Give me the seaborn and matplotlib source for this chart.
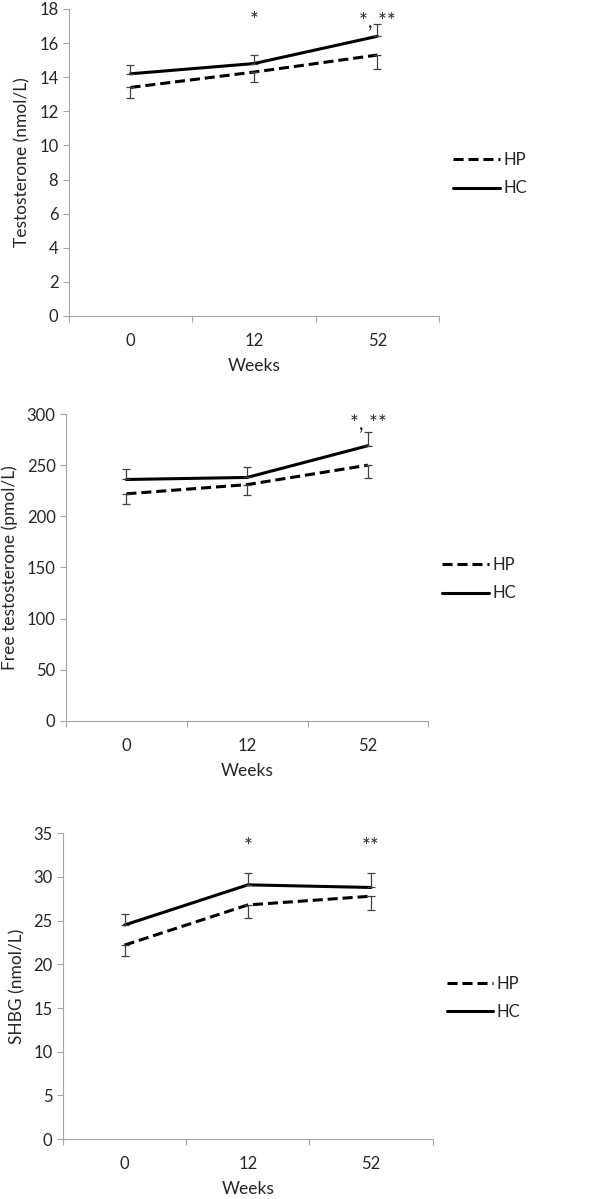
import pandas as pd
import seaborn as sns
import matplotlib.pyplot as plt
from matplotlib.ticker import FixedLocator, MultipleLocator

weeks = ['0', '12', '52']

# panel 1 - total testosterone
t_hp = [13.4, 14.3, 15.3]
t_hp_err = [0.6, 0.6, 0.8]
t_hc = [14.2, 14.8, 16.4]
t_hc_err = [0.5, 0.5, 0.7]
t_stars = ['', '*', '*, **']

# panel 2 - free testosterone
ft_hp = [222, 231, 250]
ft_hp_err = [10, 10, 13]
ft_hc = [236, 238, 269]
ft_hc_err = [10, 10, 13]
ft_stars = ['', '', '*, **']

# panel 3 - SHBG
s_hp = [22.2, 26.8, 27.8]
s_hp_err = [1.2, 1.5, 1.6]
s_hc = [24.5, 29.1, 28.8]
s_hc_err = [1.3, 1.4, 1.6]
s_stars = ['', '*', '**']

sns.set_style('white')
plt.rcParams['font.family'] = ['Lato', 'DejaVu Sans']
plt.rcParams['font.size'] = 12

fig = plt.figure(figsize=(6.14, 11.99), dpi=100)

panels = [
    dict(pos=[0.112, 0.7365, 0.603, 0.256], hp=t_hp, hp_err=t_hp_err, hc=t_hc, hc_err=t_hc_err,
         stars=t_stars, ymax=18, step=2, star_y=17.3, ylabel='Testosterone (nmol/L)'),
    dict(pos=[0.1075, 0.3987, 0.590, 0.256], hp=ft_hp, hp_err=ft_hp_err, hc=ft_hc, hc_err=ft_hc_err,
         stars=ft_stars, ymax=300, step=50, star_y=291, ylabel='Free testosterone (pmol/L)'),
    dict(pos=[0.1026, 0.050, 0.602, 0.255], hp=s_hp, hp_err=s_hp_err, hc=s_hc, hc_err=s_hc_err,
         stars=s_stars, ymax=35, step=5, star_y=33.4, ylabel='SHBG (nmol/L)'),
]

spine_col = '#a6a6a6'

for p in panels:
    ax = fig.add_axes(p['pos'])
    df = pd.DataFrame({
        'Weeks': weeks * 2,
        'value': p['hp'] + p['hc'],
        'group': ['HP'] * 3 + ['HC'] * 3,
    })
    sns.lineplot(data=df, x='Weeks', y='value', hue='group', style='group',
                 palette={'HP': 'black', 'HC': 'black'},
                 dashes={'HP': (3.3, 1.6), 'HC': ''}, linewidth=2.2, ax=ax)

    # one-sided error bars: HP down, HC up
    ax.errorbar(weeks, p['hp'], yerr=[p['hp_err'], [0, 0, 0]], fmt='none',
                ecolor='#404040', elinewidth=0.9, capsize=3, capthick=0.9)
    ax.errorbar(weeks, p['hc'], yerr=[[0, 0, 0], p['hc_err']], fmt='none',
                ecolor='#404040', elinewidth=0.9, capsize=3, capthick=0.9)

    for i, s in enumerate(p['stars']):
        if s:
            ax.text(i, p['star_y'], s, ha='center', va='center', fontsize=15)

    ax.set_xlim(-0.5, 2.5)
    ax.set_ylim(0, p['ymax'])
    ax.yaxis.set_major_locator(MultipleLocator(p['step']))
    ax.xaxis.set_minor_locator(FixedLocator([-0.5, 0.5, 1.5, 2.5]))
    ax.tick_params(axis='x', which='major', length=0, pad=12, labelsize=12)
    ax.tick_params(axis='x', which='minor', length=4, width=0.8, color=spine_col, direction='out', bottom=True)
    ax.tick_params(axis='y', length=4, width=0.8, color=spine_col, direction='out', left=True, labelsize=12)
    ax.set_xlabel('Weeks', fontsize=12.5, labelpad=7)
    ax.set_ylabel(p['ylabel'], fontsize=12.5, labelpad=6)

    for side in ['top', 'right']:
        ax.spines[side].set_visible(False)
    for side in ['left', 'bottom']:
        ax.spines[side].set_color(spine_col)
        ax.spines[side].set_linewidth(0.8)

    handles, labels = ax.get_legend_handles_labels()
    order = [labels.index('HP'), labels.index('HC')]
    ax.legend([handles[i] for i in order], ['HP', 'HC'], loc='center left',
              bbox_to_anchor=(1.038, 0.462), frameon=False, borderpad=0, borderaxespad=0,
              handlelength=2.8, handletextpad=0.2, labelspacing=0.75, fontsize=12)

fig.savefig('out.png', dpi=100)
